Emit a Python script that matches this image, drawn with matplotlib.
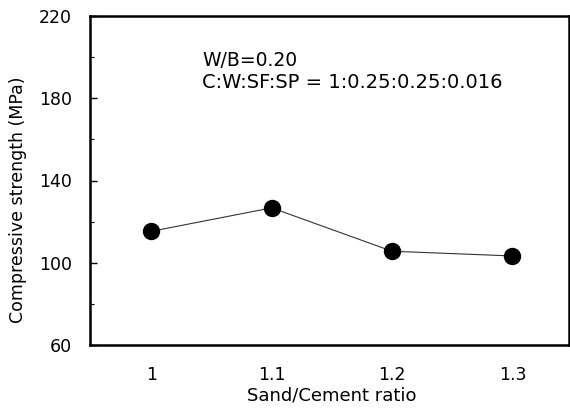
import matplotlib
matplotlib.use('Agg')
import matplotlib.pyplot as plt
from matplotlib.ticker import MultipleLocator

plt.rcParams['font.family'] = ['DejaVu Sans']

ratio = [1.0, 1.1, 1.2, 1.3]
ratio_labels = ['1', '1.1', '1.2', '1.3']
strength = [115.3, 126.7, 105.6, 103.3]
y_ticks = [60, 100, 140, 180, 220]

fig = plt.figure(figsize=(5.7, 4.09), dpi=100)
ax = fig.add_axes([90/570, 1-345/409, (569-90)/570, (345-16)/409])

ax.plot(ratio, strength, '-', color='#333333', lw=0.8,
        marker='o', ms=11.5, mfc='black', mec='black')

ax.set_xlim(0.949, 1.347)
ax.set_ylim(60, 220)
ax.set_xticks(ratio)
ax.set_xticklabels(ratio_labels)
ax.set_yticks(y_ticks)
ax.yaxis.set_minor_locator(MultipleLocator(20))
ax.tick_params(axis='y', which='major', direction='in', length=5, width=1, labelsize=12.5, pad=13)
ax.tick_params(axis='y', which='minor', direction='in', length=3, width=0.8)
ax.tick_params(axis='x', which='major', length=0, labelsize=12.5, pad=15)
for s in ax.spines.values():
    s.set_linewidth(1.8)

ax.set_xlabel('Sand/Cement ratio', fontsize=13)
ax.set_ylabel('Compressive strength (MPa)', fontsize=12.5)
ax.xaxis.set_label_coords(332/570, 1-387/409, transform=fig.transFigure)
ax.yaxis.set_label_coords(27/570, 1-200/409, transform=fig.transFigure)

ax.text(202/570, 1-60/409, 'W/B=0.20', transform=fig.transFigure,
        fontsize=13.5, va='center')
ax.text(202/570, 1-83/409, 'C:W:SF:SP = 1:0.25:0.25:0.016', transform=fig.transFigure,
        fontsize=14, va='center')

fig.savefig('out.png', dpi=100)
